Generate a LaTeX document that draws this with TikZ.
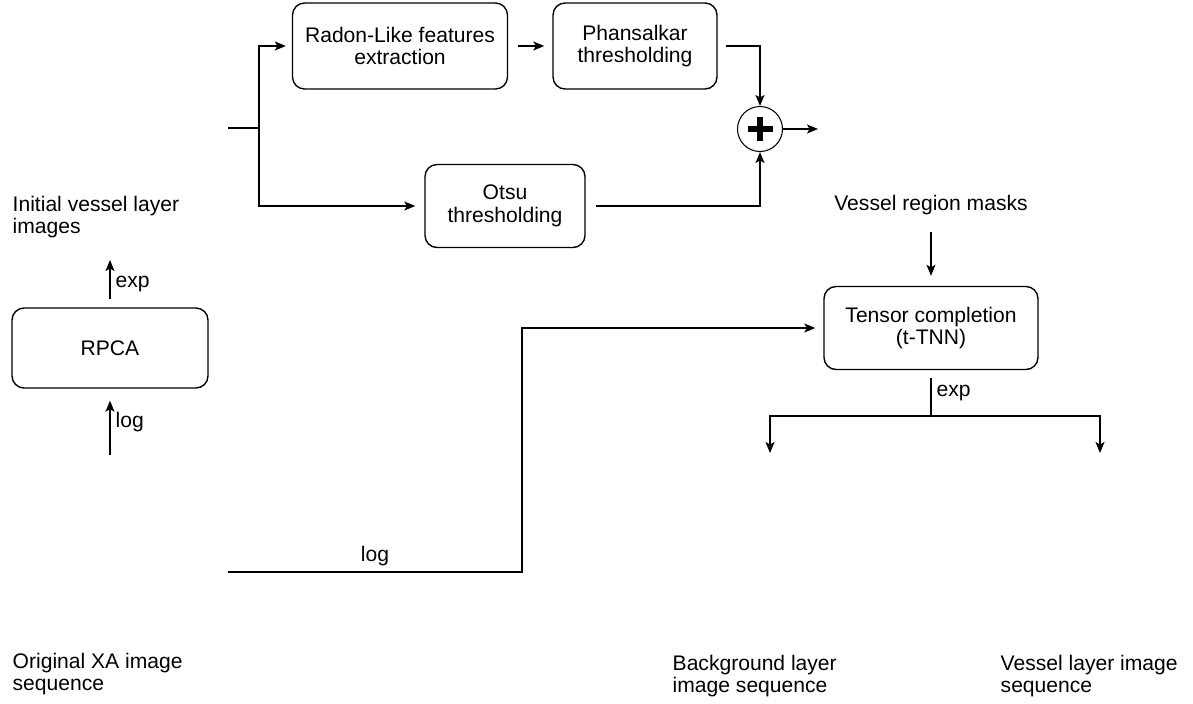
\documentclass[tikz,border=0pt]{standalone}
\usepackage{fontspec}
\setmainfont{Liberation Sans}
\usetikzlibrary{arrows.meta}

\begin{document}
\begin{tikzpicture}[x=0.02cm, y=-0.02cm,
  box/.style={draw, rounded corners=0.24cm, align=center, inner sep=0pt},
  lbl/.style={align=left, anchor=west, inner sep=0pt},
  tag/.style={right, inner sep=0.1cm},
  >={Stealth[length=0.22cm, width=0.18cm, inset=0.05cm]},
  line width=0.8pt,
  font=\fontsize{12}{13}\selectfont]
\useasboundingbox (0,0) rectangle (1193,703);

% processing boxes
\node[box, minimum width=4.3cm, minimum height=1.72cm] (radon) at (400,46) {Radon-Like features\\extraction};
\node[box, minimum width=3.28cm, minimum height=1.72cm] (phan) at (635,46) {Phansalkar\\thresholding};
\node[box, minimum width=3.2cm, minimum height=1.66cm] (otsu) at (505,206) {Otsu\\thresholding};
\node[box, minimum width=4.28cm, minimum height=1.66cm] (tensor) at (931,328) {Tensor completion\\(t-TNN)};
\node[box, minimum width=3.92cm, minimum height=1.6cm] (rpca) at (110,348) {RPCA};
\node[draw, circle, line width=0.6pt, minimum size=0.9cm, inner sep=0pt] (plus) at (760,129) {};
\draw[line width=3pt] ([xshift=-0.25cm]plus.center) -- ([xshift=0.25cm]plus.center);
\draw[line width=3pt] ([yshift=-0.25cm]plus.center) -- ([yshift=0.25cm]plus.center);

% image labels
\node[lbl] (init) at (12,217) {Initial vessel layer\\images};
\node[lbl] (orig) at (12,674) {Original XA image\\sequence};
\node[lbl] (bg) at (672,676) {Background layer\\image sequence};
\node[lbl] (vessel) at (1000,676) {Vessel layer image\\sequence};
\node (masks) at (931,205) {Vessel region masks};

\coordinate (in) at (228,128);
\coordinate (split) at (259,128);
\coordinate (out) at (818,129);
\coordinate (src) at (228,572);
\coordinate (bend) at (522,572);
\coordinate (fork) at (931,416);
\coordinate (bgend) at (770,453);
\coordinate (vsend) at (1100,453);
\coordinate (logstart) at (110,455);
\coordinate (expend) at (110,260);

% connectors
\draw (in) -- (split);
\draw[->, shorten >=0.12cm] (split) |- (radon.west);
\draw[->, shorten >=0.18cm] (split) |- (otsu.west);
\draw[->, shorten <=0.2cm, shorten >=0.16cm] (radon) -- (phan);
\draw[->, shorten <=0.16cm] (phan.east) -| (plus.north);
\draw[->, shorten <=0.2cm] (otsu.east) -| (plus.south);
\draw[->] (plus) -- (out);
\draw[->, shorten <=0.22cm, shorten >=0.2cm] (masks.south) -- (tensor.north);
\draw[->, shorten >=0.16cm] (src) -- node[above]{log} (bend) |- (tensor.west);
\draw[shorten <=0.16cm] (tensor.south) -- node[tag]{exp} (fork);
\draw[->] (fork) -| (bgend);
\draw[->] (fork) -| (vsend);
\draw[->, shorten >=0.24cm] (logstart) -- node[tag]{log} (rpca.south);
\draw[->, shorten <=0.16cm] (rpca.north) -- node[tag]{exp} (expend);
\end{tikzpicture}
\end{document}
